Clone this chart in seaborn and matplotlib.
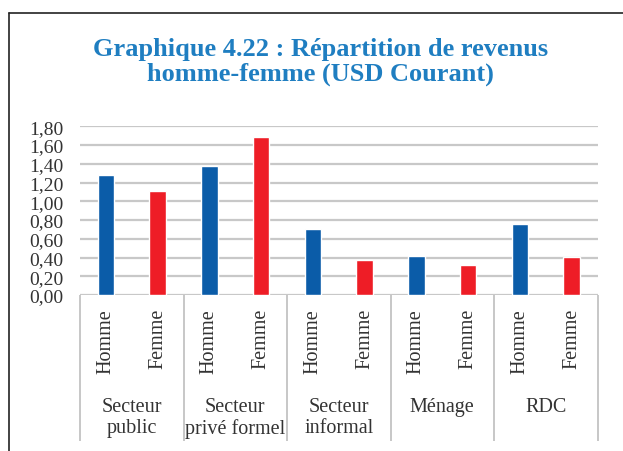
import pandas as pd
import numpy as np
import seaborn as sns
import matplotlib.pyplot as plt
from matplotlib.lines import Line2D
from matplotlib.ticker import FuncFormatter

groups = ["Secteur\npublic", "Secteur\nprivé formel", "Secteur\ninformal", "Ménage", "RDC"]
genders = ["Homme", "Femme"]
homme = [1.28, 1.38, 0.70, 0.42, 0.76]
femme = [1.11, 1.69, 0.37, 0.32, 0.41]
yticks = [0.0, 0.2, 0.4, 0.6, 0.8, 1.0, 1.2, 1.4, 1.6, 1.8]

df = pd.DataFrame({
    "groupe": groups * 2,
    "sexe": ["Homme"] * len(groups) + ["Femme"] * len(groups),
    "valeur": homme + femme,
})

sns.set_style("white")
plt.rcParams["font.family"] = ["Liberation Serif", "DejaVu Serif"]

fig = plt.figure(figsize=(6.23, 4.52), dpi=100)
ax = fig.add_axes([80 / 623, 1 - 296 / 452, (597.5 - 80) / 623, (296 - 127.3) / 452])

sns.barplot(data=df, x="groupe", y="valeur", hue="sexe", order=groups, hue_order=genders,
            palette={"Homme": "#0B5CA8", "Femme": "#EE1D26"}, width=1.0, gap=0.68,
            saturation=1, legend=False, ax=ax, zorder=3)

ax.set_xlim(-0.5, len(groups) - 0.5)
ax.set_ylim(0, 1.8)
ax.set_yticks(yticks)
ax.yaxis.set_major_formatter(FuncFormatter(lambda v, p: f"{v:.2f}".replace(".", ",")))
ax.tick_params(axis="y", labelsize=14, length=0, pad=12, colors="#333333")
ax.set_xticks([])
ax.set_xlabel("")
ax.set_ylabel("")
for s in ax.spines.values():
    s.set_visible(False)
for t in yticks:
    ax.axhline(t, color="#C8C8C8", lw=1.6, zorder=1)

# category axis below the plot
xt = ax.get_xaxis_transform()
bounds = np.arange(len(groups) + 1) - 0.5
ax.vlines(bounds, -0.865, 0, transform=xt, colors="#BDBDBD", lw=1.2, clip_on=False)
for i, g in enumerate(groups):
    for j, sexe in enumerate(genders):
        ax.text(i - 0.25 + 0.5 * j, -0.077, sexe, transform=xt, rotation=90,
                ha="center", va="top", fontsize=14.5, color="#333333")
    ax.text(i, -0.607, g, transform=xt, ha="center", va="top", fontsize=14.5,
            color="#333333", multialignment="center", linespacing=1.1)

fig.text(0.514, 0.917, "Graphique 4.22 : Répartition de revenus\nhomme-femme (USD Courant)",
         ha="center", va="top", fontsize=19, fontweight="bold", color="#1F7EC1", linespacing=1.1)

# frame of the original figure
fig.add_artist(Line2D([9 / 623, 9 / 623], [0, 1 - 14 / 452], color="#222222", lw=1.2))
fig.add_artist(Line2D([9 / 623, 1], [1 - 14 / 452, 1 - 14 / 452], color="#222222", lw=1.2))

fig.savefig("out.png", dpi=100)
